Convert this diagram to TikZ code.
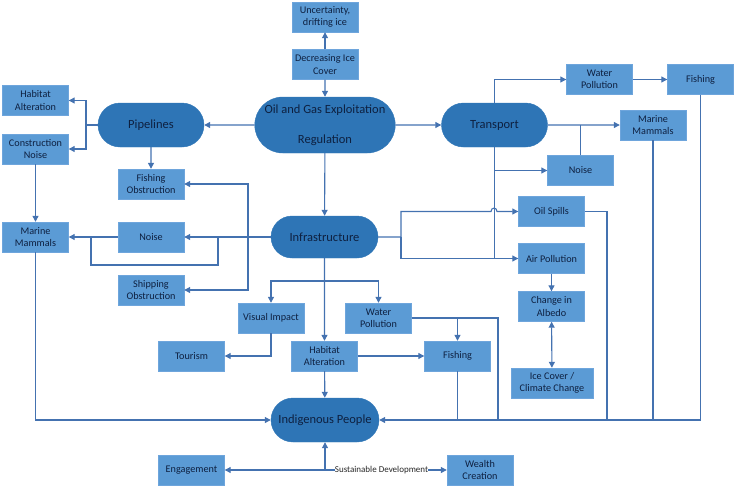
\documentclass[tikz,border=0pt]{standalone}
\usepackage{fontspec}
\setmainfont{Carlito}
\usepackage{xcolor}
\usepackage{tikz}
\usetikzlibrary{arrows.meta,shapes.misc}
\definecolor{boxfill}{RGB}{91, 155, 213}
\definecolor{boxedge}{RGB}{110, 165, 220}
\definecolor{hubfill}{RGB}{46, 117, 182}
\definecolor{linecol}{RGB}{68, 114, 176}
\definecolor{navy}{RGB}{14, 32, 64}

\tikzset{
  box/.style={rectangle, fill=boxfill, draw=boxedge, line width=0.4pt, minimum width=66pt, minimum height=30pt,
    inner sep=1pt, align=center, text=navy, font=\fontsize{10.2}{12.3}\selectfont},
  hub/.style={rounded rectangle, fill=hubfill, draw=hubfill, minimum width=108pt, minimum height=44pt,
    inner sep=1pt, align=center, text=navy, font=\fontsize{12.5}{15}\selectfont},
  link/.style={draw=linecol, line width=1.1pt},
  arr/.style={link, ->},
}

\begin{document}
\begin{tikzpicture}[x=1pt, y=-1pt, >={Triangle[length=6pt, width=6pt]}]
  \useasboundingbox (0,0) rectangle (738,490);

  % Main rounded nodes
  \node[hub, minimum width=139pt, minimum height=56pt] (oilgas) at (325,125) {Oil and Gas Exploitation\\[15pt]Regulation};
  \node[hub] (pipe) at (151,125) {Pipelines};
  \node[hub] (trans) at (494.5,125) {Transport};
  \node[hub, minimum width=109pt, minimum height=42pt] (infra) at (324.5,237) {Infrastructure};
  \node[hub, minimum width=110pt] (indig) at (325,420) {Indigenous People};

  % Top
  \node[box] (uncert) at (325,17) {Uncertainty,\\drifting ice};
  \node[box] (decice) at (325,64.5) {Decreasing Ice\\Cover};

  % Left column
  \node[box] (habL) at (35.5,100.5) {Habitat\\Alteration};
  \node[box] (consn) at (35.5,149) {Construction\\Noise};
  \node[box] (mamL) at (35.5,237) {Marine\\Mammals};
  \node[box] (fishob) at (151,184) {Fishing\\Obstruction};
  \node[box] (noiseL) at (151,237) {Noise};
  \node[box] (shipob) at (151,290) {Shipping\\Obstruction};

  % Transport side
  \node[box] (watT) at (599.5,79.5) {Water\\Pollution};
  \node[box] (fishT) at (700.5,79.5) {Fishing};
  \node[box] (mamR) at (653,125) {Marine\\Mammals};
  \node[box] (noiseR) at (580.5,170.5) {Noise};
  \node[box] (oilsp) at (551.5,211.5) {Oil Spills};
  \node[box] (airp) at (551.5,258.5) {Air Pollution};
  \node[box] (albedo) at (551.5,306.5) {Change in\\Albedo};
  \node[box, minimum width=82pt] (icecc) at (552,383) {Ice Cover /\\Climate Change};

  % Below infrastructure
  \node[box] (visimp) at (271,318) {Visual Impact};
  \node[box] (watM) at (378.5,318) {Water\\Pollution};
  \node[box] (tour) at (191.5,356) {Tourism};
  \node[box] (habM) at (324.5,356) {Habitat\\Alteration};
  \node[box] (fishM) at (457.5,356) {Fishing};

  % Bottom
  \node[box] (engage) at (191.5,470) {Engagement};
  \node[box] (wealth) at (480,470) {Wealth\\Creation};
  \node[inner sep=0pt, font=\fontsize{9}{11}\selectfont, text=black!85] (sdev) at (381.5,470) {Sustainable Development};

  % Junctions
  \coordinate (pj) at (86,125);
  \coordinate (lj1) at (218,237);
  \coordinate (lj2) at (91,237);
  \coordinate (sj) at (248,237);
  \coordinate (rj) at (401,237);
  \coordinate (ij) at (324.5,281);
  \coordinate (wj) at (457.5,318);
  \coordinate (bo1) at (607,420);
  \coordinate (bo2) at (498,420);
  \coordinate (bj) at (325,470);

  % Top links
  \draw[arr] (decice) -- (uncert);
  \draw[arr] (decice) -- (oilgas);
  \draw[arr] (oilgas) -- (pipe);
  \draw[arr] (oilgas) -- (trans);
  \draw[arr] (oilgas) -- (infra);

  % Pipelines
  \draw[link] (pipe) -- (pj);
  \draw[arr] (pj) |- (habL);
  \draw[arr] (pj) |- (consn);
  \draw[arr] (pipe) -- (fishob);
  \draw[arr] (consn) -- (mamL);

  % Infrastructure, left
  \draw[arr] (infra) -- (noiseL);
  \draw[arr] (noiseL) -- (mamL);
  \draw[link] (lj1) -- ++(0,28) -| (lj2);
  \draw[arr] (sj) |- (fishob);
  \draw[arr] (sj) |- (shipob);

  % Infrastructure, right
  \draw[link] (infra) -- (rj);
  \draw[arr] (rj) |- (491,211.5) .. controls (491,207) and (497,207) .. (497,211.5) -- (oilsp);
  \draw[arr] (rj) |- (airp);

  % Transport
  \draw[arr] (trans) |- (watT);
  \draw[arr] (watT) -- (fishT);
  \draw[arr] (trans) -- (mamR);
  \draw[link] (noiseR.north) -- (noiseR.north |- trans.east);
  \draw[arr] (trans.south) |- (noiseR);
  \draw[link] (trans.south) -- (trans.south |- airp.west);
  \draw[arr] (airp) -- (albedo);
  \draw[<->, link] (albedo) -- (icecc);

  % Into Indigenous People
  \draw[arr] (fishT) |- (indig);
  \draw[link] (mamR) -- (mamR |- indig.east);
  \draw[link] (oilsp.east) -| (bo1);
  \draw[link] (watM.east) -| (bo2);
  \draw[link] (fishM) -- (fishM |- indig.east);
  \draw[arr] (mamL) |- (indig);

  % Infrastructure, down
  \draw[arr] (infra) -- (habM);
  \draw[arr] (ij) -| (visimp);
  \draw[arr] (ij) -| (watM);
  \draw[arr] (visimp) |- (tour);
  \draw[arr] (habM) -- (fishM);
  \draw[arr] (habM) -- (indig);
  \draw[arr] (wj) -- (fishM);

  % Bottom
  \draw[arr] (bj) -- (indig);
  \draw[arr] (bj) -- (engage);
  \draw[link] (bj) -- (sdev);
  \draw[arr] (sdev) -- (wealth);
\end{tikzpicture}
\end{document}
